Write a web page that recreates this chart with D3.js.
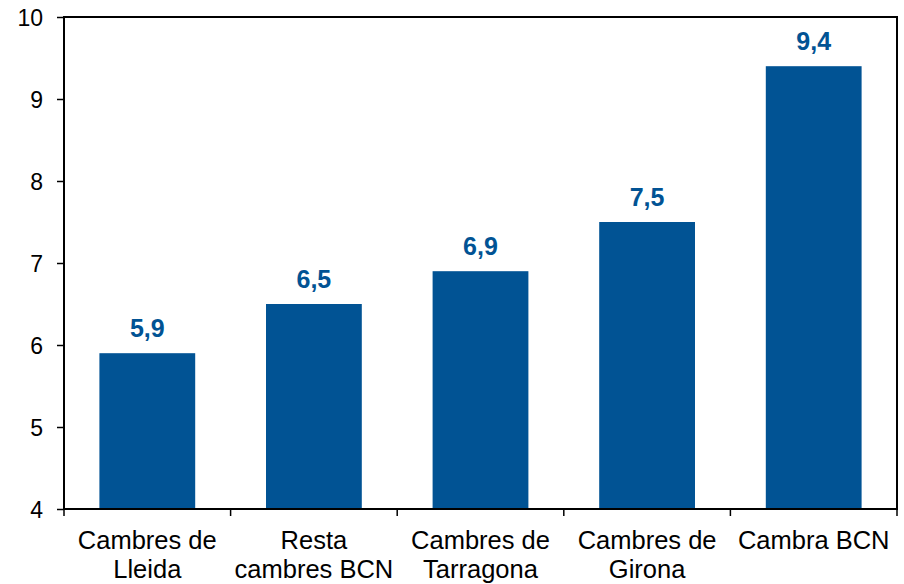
<!DOCTYPE html>
<html><head><meta charset="utf-8">
<script src="https://cdn.jsdelivr.net/npm/d3@7"></script>
<style>body{margin:0;background:#fff}svg{display:block}text{font-family:"Liberation Sans",Arial,sans-serif}</style>
</head><body><div id="chart"></div>
<script>
const categories = [["Cambres de","Lleida"],["Resta","cambres BCN"],["Cambres de","Tarragona"],["Cambres de","Girona"],["Cambra BCN"]];
const values = [5.9, 6.5, 6.9, 7.5, 9.4];
const valueLabels = ["5,9","6,5","6,9","7,5","9,4"];
const yTicks = [4,5,6,7,8,9,10];

const W = 904, H = 584;
const m = {left:64, right:7, top:17, bottom:75};
const svg = d3.select("#chart").append("svg").attr("width",W).attr("height",H);
const x = d3.scaleBand().domain(d3.range(values.length)).range([m.left, W-m.right]).paddingInner(0.425).paddingOuter(0.2125);
const y = d3.scaleLinear().domain([4,10]).range([H-m.bottom, m.top]);
const x0 = m.left, x1 = W-m.right;

svg.selectAll("rect.bar").data(values).join("rect").attr("class","bar")
  .attr("x",(d,i)=>x(i)).attr("width",x.bandwidth())
  .attr("y",d=>y(d)).attr("height",d=>y(4)-y(d)).attr("fill","#015394");

svg.selectAll("text.val").data(values).join("text").attr("class","val")
  .attr("x",(d,i)=>x(i)+x.bandwidth()/2).attr("y",d=>y(d)-16)
  .attr("text-anchor","middle").attr("font-size",25).attr("font-weight","bold").attr("fill","#015394")
  .text((d,i)=>valueLabels[i]);

// frame
const g = svg.append("g").attr("fill","none").attr("stroke","#000").attr("stroke-width",2);
g.append("rect").attr("x",x0).attr("y",y(10)).attr("width",x1-x0).attr("height",y(4)-y(10));

// y axis
const ya = svg.append("g").attr("transform",`translate(${x0},0)`)
  .call(d3.axisLeft(y).tickValues(yTicks).tickSize(7).tickPadding(14).tickFormat(d3.format("d")));
ya.select(".domain").remove();
ya.selectAll("line").attr("stroke","#000").attr("stroke-width",1.5);
ya.selectAll("text").attr("font-size",23).attr("fill","#000").attr("font-family","Liberation Sans, Arial, sans-serif").attr("dy","0.36em");

// x ticks at category boundaries
const bounds = d3.range(values.length+1).map(i=>x0 + i*(x1-x0)/values.length);
svg.selectAll("line.xt").data(bounds).join("line").attr("class","xt")
  .attr("x1",d=>d).attr("x2",d=>d).attr("y1",y(4)).attr("y2",y(4)+7)
  .attr("stroke","#000").attr("stroke-width",1.5);

// x labels (each line a separate text element)
const catLines = [];
categories.forEach((lines,i)=>lines.forEach((t,j)=>catLines.push({i,j,t})));
svg.selectAll("text.cat").data(catLines).join("text").attr("class","cat")
  .attr("text-anchor","middle").attr("font-size",25.5).attr("fill","#000")
  .attr("x",d=>x(d.i)+x.bandwidth()/2)
  .attr("y",d=>y(4)+40+d.j*29)
  .text(d=>d.t);
</script></body></html>
